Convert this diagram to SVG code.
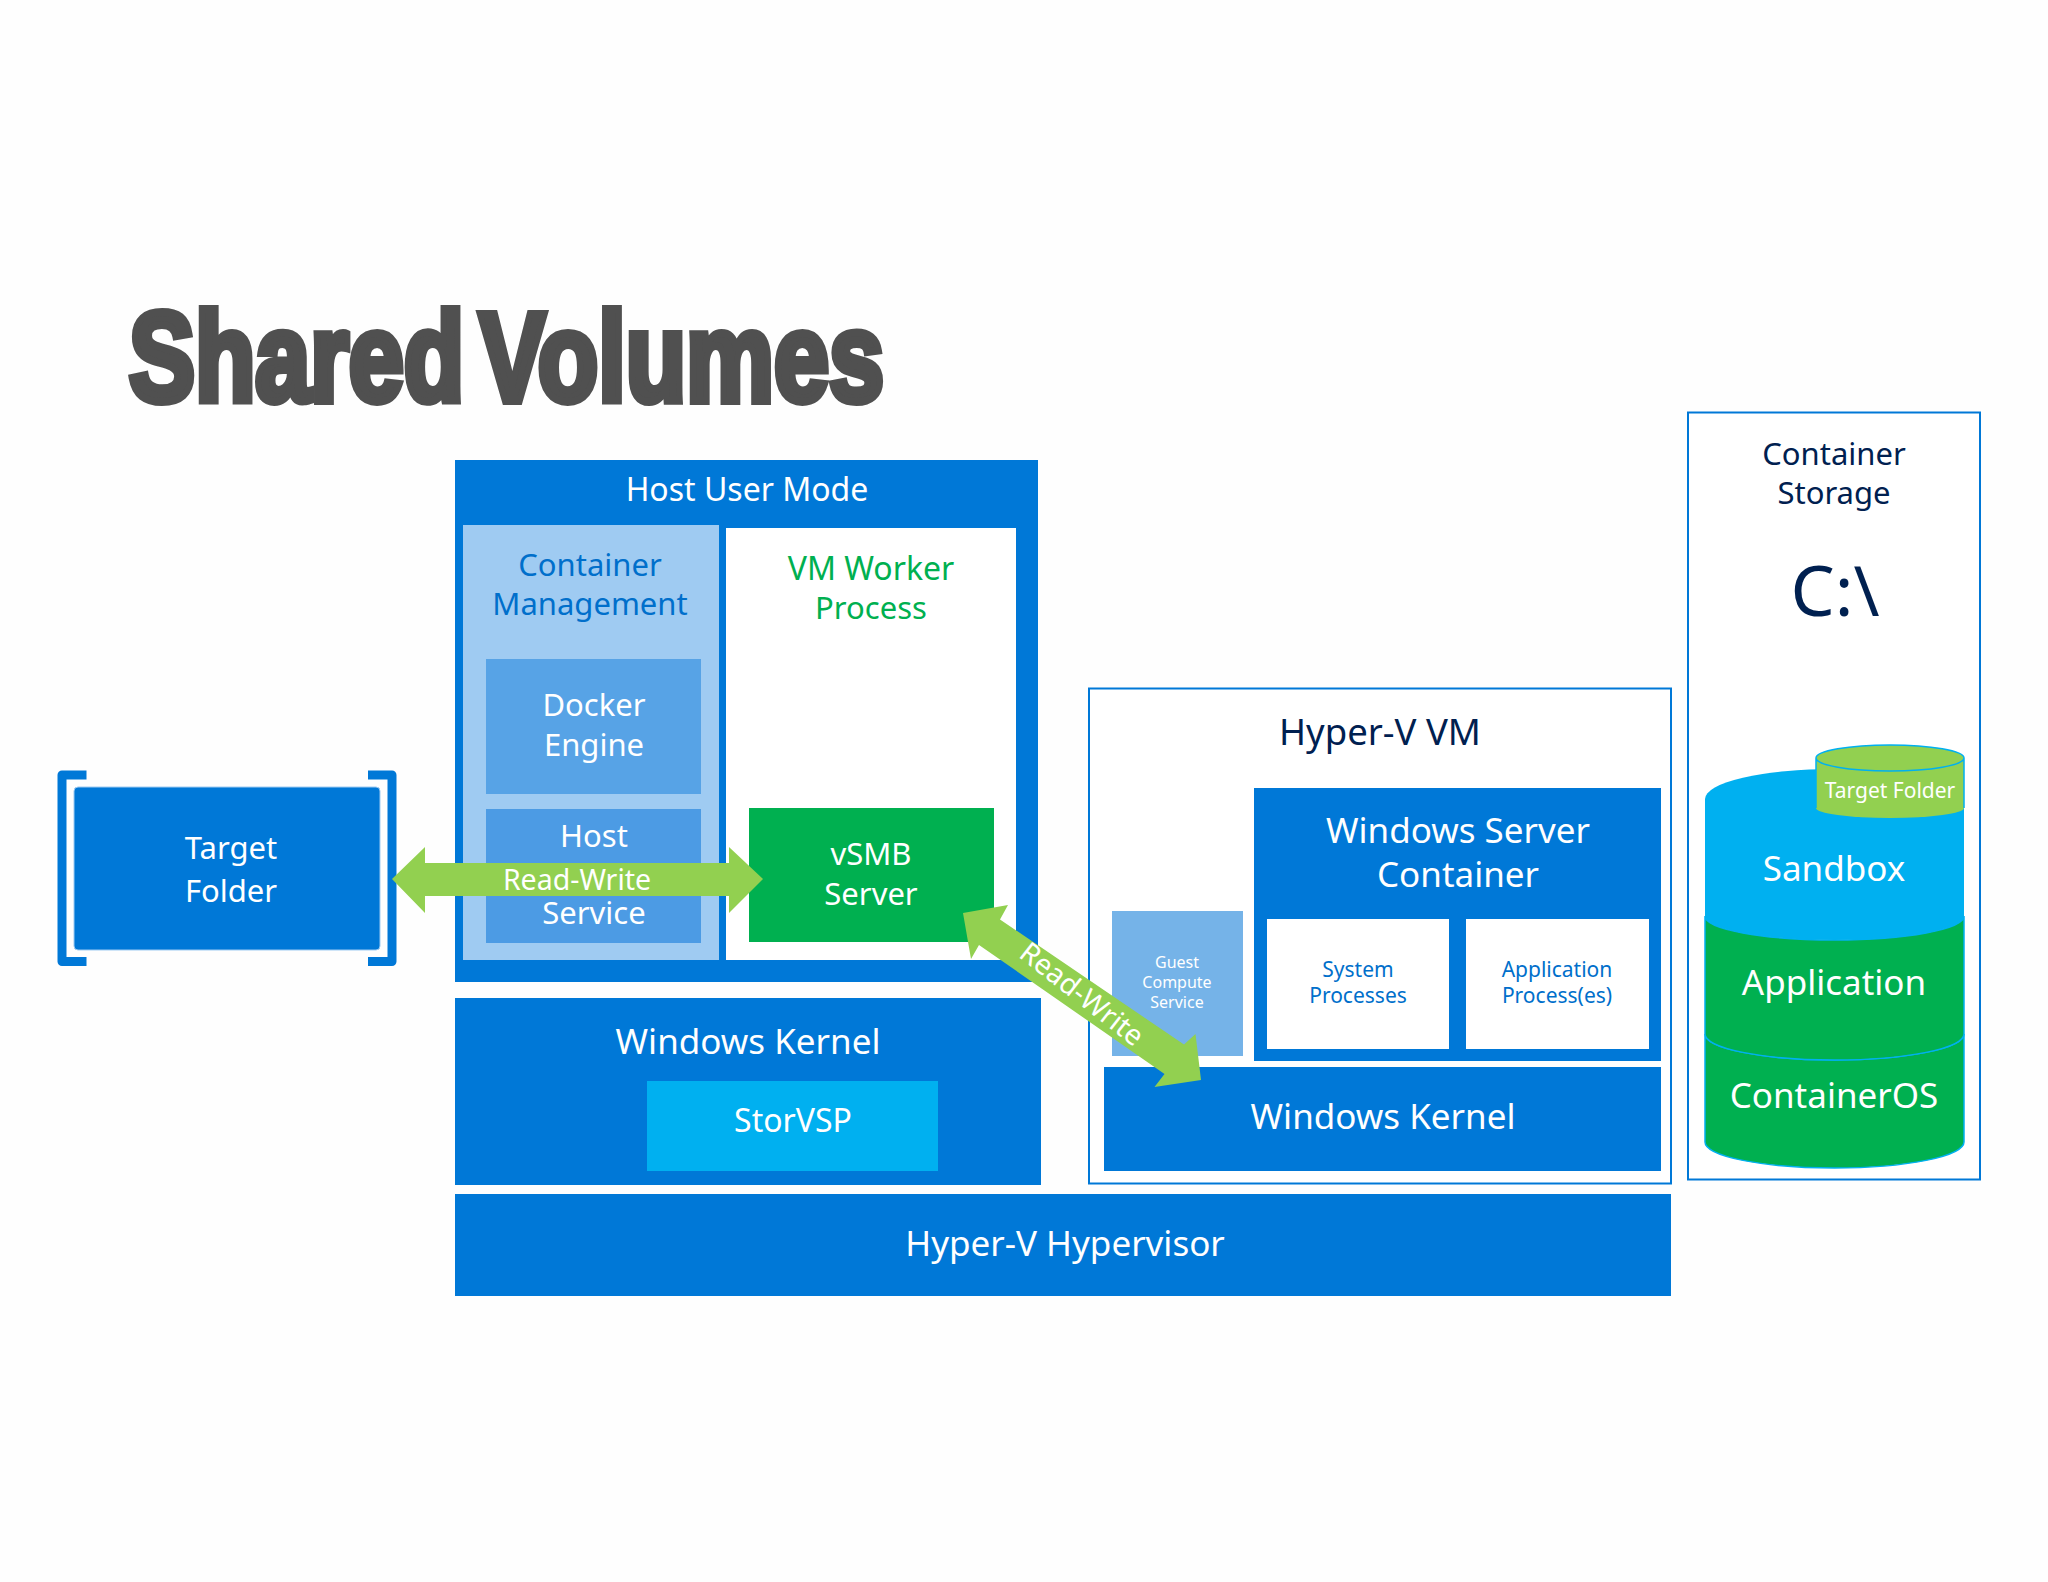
<svg xmlns="http://www.w3.org/2000/svg" width="2048" height="1582" viewBox="0 0 2048 1582">
<style>
text{font-family:"Noto Sans","Open Sans","Liberation Sans",sans-serif;text-anchor:middle}
.w{fill:#fff}.b{fill:#0078d7}.n{fill:#002050}.g{fill:#00b050}.cb{fill:#006fcb}
.blue{fill:#0078d7}
.frame{fill:#fff;stroke:#0078d7;stroke-width:2}
.s31{font-size:31px}.s32{font-size:32px}.s35{font-size:35px}.s24{font-size:21px}.s16{font-size:16px}.s29{font-size:28.500px}
.arrow{fill:#92d050}
.title{font-family:"Liberation Sans",Arial,sans-serif;font-weight:700;font-size:126px;fill:#505050;stroke:#505050;stroke-width:8;stroke-linejoin:miter;text-anchor:start;word-spacing:-16px}
</style>
<rect width="2048" height="1582" fill="#fefefe"/>
<text id="title" class="title" x="129" y="401" textLength="755" lengthAdjust="spacingAndGlyphs">Shared Volumes</text>

<g id="target-folder">
<path d="M86.500 775H62V961.500H86.500M368 775H392V961.500H368" fill="none" stroke="#0078d7" stroke-width="9" stroke-linejoin="round"/>
<rect x="74" y="787" width="306" height="163" rx="4" class="blue" stroke="#9fcbf2" stroke-width="1"/>
<text class="w s31" x="231" y="859">Target</text><text class="w s31" x="231" y="902">Folder</text>
</g>
<g id="host-user-mode">
<rect x="455" y="460" width="583" height="522" class="blue"/>
<text class="w s32" x="747" y="501">Host User Mode</text>
</g>
<g id="container-management">
<rect x="463" y="525" width="256" height="435" fill="#9fcbf2"/>
<text class="cb s31" x="590" y="576">Container</text><text class="cb s31" x="590" y="615">Management</text>
</g>
<g id="docker-engine">
<rect x="486" y="659" width="215" height="135" fill="#57a3e6"/>
<text class="w s31" x="594" y="716">Docker</text><text class="w s31" x="594" y="756">Engine</text>
</g>
<g id="host-service">
<rect x="486" y="809" width="215" height="134" fill="#4c9be4"/>
<text class="w s31" x="594" y="847">Host</text><text class="w s31" x="594" y="924">Service</text>
</g>
<g id="vm-worker-process">
<rect x="726" y="528" width="290" height="432" fill="#fff"/>
<text class="g s32" x="871" y="580">VM Worker</text><text class="g s31" x="871" y="619">Process</text>
</g>
<g id="vsmb-server">
<rect x="749" y="808" width="245" height="134" fill="#00b050"/>
<text class="w s31" x="871" y="865">vSMB</text><text class="w s31" x="871" y="905">Server</text>
</g>
<g id="windows-kernel-host">
<rect x="455" y="998" width="586" height="187" class="blue"/>
<text class="w s35" x="748" y="1054">Windows Kernel</text>
</g>
<g id="storvsp">
<rect x="647" y="1081" width="291" height="90" fill="#00b0f0"/>
<text class="w s32" x="793" y="1132">StorVSP</text>
</g>
<g id="hypervisor">
<rect x="455" y="1194" width="1216" height="102" class="blue"/>
<text class="w s35" x="1065" y="1256">Hyper-V Hypervisor</text>
</g>
<g id="hyper-v-vm">
<rect x="1089" y="688.500" width="582" height="495" class="frame"/>
<text class="n" font-size="36.500" x="1380" y="745">Hyper-V VM</text>
</g>
<g id="guest-compute-service">
<rect x="1112" y="911" width="131" height="145" fill="#75b3e8"/>
<text class="w s16" x="1177" y="968">Guest</text><text class="w s16" x="1177" y="988">Compute</text><text class="w s16" x="1177" y="1008">Service</text>
</g>
<g id="windows-server-container">
<rect x="1254" y="788" width="407" height="273" class="blue"/>
<text class="w s35" x="1458" y="843">Windows Server</text><text class="w s35" x="1458" y="887">Container</text>
</g>
<g id="system-processes">
<rect x="1267" y="919" width="182" height="130" fill="#fff"/>
<text class="cb s24" x="1358" y="977">System</text><text class="cb s24" x="1358" y="1003">Processes</text>
</g>
<g id="application-processes">
<rect x="1466" y="919" width="183" height="130" fill="#fff"/>
<text class="cb s24" x="1557" y="977">Application</text><text class="cb s24" x="1557" y="1003">Process(es)</text>
</g>
<g id="windows-kernel-vm">
<rect x="1104" y="1067" width="557" height="104" class="blue"/>
<text class="w s35" x="1383" y="1129">Windows Kernel</text>
</g>
<g id="container-storage">
<rect x="1688" y="412.500" width="292" height="767" class="frame"/>
<text class="n s31" x="1834" y="465">Container</text><text class="n s31" x="1834" y="504">Storage</text>
<text class="n" x="1835" y="616" font-size="70">C:\</text>
</g>
<g id="container-os">
<path d="M1705 1034A129.500 26 0 0 0 1964 1034V1142A129.500 26 0 0 1 1705 1142Z" fill="#00b050" stroke="#00b0f0" stroke-width="1.500"/>
<text class="w s35" x="1834" y="1108">ContainerOS</text>
</g>
<g id="application-layer">
<path d="M1705 916A129.500 24 0 0 0 1964 916V1034A129.500 26 0 0 1 1705 1034Z" fill="#00b050" stroke="#00b0f0" stroke-width="1.500"/>
<text class="w s35" x="1834" y="995">Application</text>
</g>
<g id="sandbox">
<path d="M1705 799A129.500 30 0 0 1 1964 799V916A129.500 24 0 0 1 1705 916Z" fill="#00b0f0"/>
<text class="w s35" x="1834" y="881">Sandbox</text>
</g>
<g id="target-folder-volume">
<path d="M1816 758A74 13 0 0 1 1964 758V808A74 10 0 0 1 1816 808Z" fill="#92d050"/>
<path d="M1816 808V758A74 13 0 0 1 1964 758V808M1816 758A74 13 0 0 0 1964 758" fill="none" stroke="#00b0f0" stroke-width="1.500"/>
<text class="w s24" x="1890" y="798">Target Folder</text>
</g>
<g id="connectors">
<polygon class="arrow" points="392,879 425,847 425,863 729,863 729,847 763,879 729,913 729,896 425,896 425,913"/>
<text class="w s29" x="577" y="890">Read-Write</text>
<polygon class="arrow" points="963,913 1008,905 1000,919.500 1184,1044.500 1195.500,1034 1201,1080 1154.500,1087 1164.500,1074 979,945 971,959"/>
<text class="w s29" transform="translate(1082,994) rotate(38)" x="0" y="10">Read-Write</text>
</g>
</svg>
